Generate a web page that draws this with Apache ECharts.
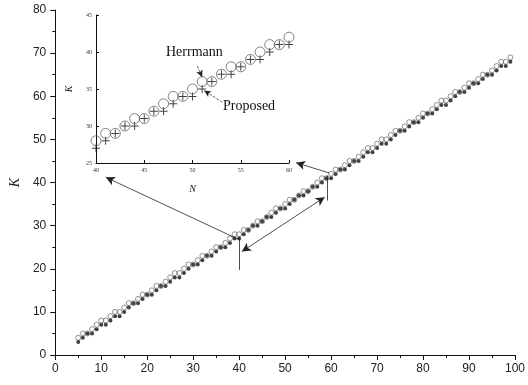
<!DOCTYPE html>
<html>
<head>
<meta charset="utf-8">
<script src="https://cdn.jsdelivr.net/npm/echarts@6/dist/echarts.min.js"></script>
<style>
html, body { margin: 0; padding: 0; background: #fff; }
#chart { width: 528px; height: 385px; }
</style>
</head>
<body>
<div id="chart"></div>
<script>
// N from 5 to 99
var nVals = [5,6,7,8,9,10,11,12,13,14,15,16,17,18,19,20,21,22,23,24,25,26,27,28,29,30,
    31,32,33,34,35,36,37,38,39,40,41,42,43,44,45,46,47,48,49,50,51,52,53,54,55,56,57,58,59,60,
    61,62,63,64,65,66,67,68,69,70,71,72,73,74,75,76,77,78,79,80,81,82,83,84,85,86,87,88,89,90,
    91,92,93,94,95,96,97,98,99];
var herrmann = [4,5,5,6,7,8,8,9,10,10,11,12,12,13,14,14,15,16,16,17,18,19,19,20,21,21,
    22,23,23,24,25,25,26,27,28,28,29,29,30,31,31,32,33,34,34,35,36,36,37,38,38,39,40,41,41,42,
    43,43,44,45,45,46,47,48,48,49,50,50,51,52,52,53,54,54,55,56,56,57,58,59,59,60,61,61,62,63,
    63,64,65,65,66,67,68,68,69];
var proposed = [3,4,5,5,6,7,7,8,9,9,10,11,12,12,13,14,14,15,16,16,17,18,18,19,20,21,
    21,22,23,23,24,25,25,26,27,27,28,29,30,30,31,32,32,33,34,34,35,36,37,37,38,39,39,40,41,41,
    42,43,43,44,45,45,46,47,47,48,49,49,50,51,52,52,53,54,54,55,56,56,57,58,58,59,60,61,61,62,
    63,63,64,65,65,66,67,67,68];

var mainXTicks = [0, 100, 10];
var mainYTicks = [0, 80, 10];
var insetXTicks = [40, 60, 5];
var insetYTicks = [25, 45, 5];

function pairs(ys, from, to) {
    var out = [];
    for (var i = 0; i < nVals.length; i++) {
        if (nVals[i] >= from && nVals[i] <= to) out.push([nVals[i], ys[i]]);
    }
    return out;
}

var plusPath = 'path://M4.4,0H5.6V4.4H10V5.6H5.6V10H4.4V5.6H0V4.4H4.4Z';
var lineStyle = { color: '#222', width: 0.8, type: 'solid' };
var sans = 'Liberation Sans';
var serif = 'Liberation Serif';

var myChart = echarts.init(document.getElementById('chart'));
var option = {
    backgroundColor: '#fff',
    animation: false,
    grid: [
        { left: 52, right: 9, top: 10, bottom: 30 },
        { left: 96, right: 239, top: 15, bottom: 222 }
    ],
    xAxis: [
        {
            gridIndex: 0, type: 'value',
            min: mainXTicks[0], max: mainXTicks[1], interval: mainXTicks[2],
            axisLine: { lineStyle: { color: '#111', width: 1 } },
            axisTick: { inside: false, length: 5, lineStyle: { color: '#111' } },
            minorTick: { show: true, splitNumber: 2, length: 3, lineStyle: { color: '#111' } },
            axisLabel: { color: '#222', fontSize: 12, margin: 8, fontFamily: sans },
            splitLine: { show: false }
        },
        {
            gridIndex: 1, type: 'value',
            min: insetXTicks[0], max: insetXTicks[1], interval: insetXTicks[2],
            name: 'N', nameLocation: 'middle', nameGap: 21,
            nameTextStyle: { fontFamily: serif, fontStyle: 'italic', fontSize: 10, color: '#222' },
            axisLine: { lineStyle: { color: '#111', width: 1 } },
            axisTick: { inside: true, length: 3, lineStyle: { color: '#111' } },
            axisLabel: { color: '#333', fontSize: 6, margin: 4, fontFamily: serif },
            splitLine: { show: false }
        }
    ],
    yAxis: [
        {
            gridIndex: 0, type: 'value',
            min: mainYTicks[0], max: mainYTicks[1], interval: mainYTicks[2],
            name: 'K', nameLocation: 'middle', nameGap: 31,
            nameTextStyle: { fontFamily: serif, fontStyle: 'italic', fontSize: 14, color: '#222' },
            axisLine: { show: true, lineStyle: { color: '#111', width: 1 } },
            axisTick: { show: true, inside: false, length: 5, lineStyle: { color: '#111' } },
            minorTick: { show: true, splitNumber: 2, length: 3, lineStyle: { color: '#111' } },
            axisLabel: { color: '#222', fontSize: 12, margin: 9, fontFamily: sans },
            splitLine: { show: false }
        },
        {
            gridIndex: 1, type: 'value',
            min: insetYTicks[0], max: insetYTicks[1], interval: insetYTicks[2],
            name: 'K', nameLocation: 'middle', nameGap: 22,
            nameTextStyle: { fontFamily: serif, fontStyle: 'italic', fontSize: 10, color: '#222' },
            axisLine: { show: true, lineStyle: { color: '#111', width: 1 } },
            axisTick: { show: true, inside: true, length: 3, lineStyle: { color: '#111' } },
            axisLabel: { color: '#333', fontSize: 6, margin: 4, fontFamily: serif },
            splitLine: { show: false }
        }
    ],
    series: [
        {
            name: 'Proposed', type: 'scatter', xAxisIndex: 0, yAxisIndex: 0,
            symbol: 'circle', symbolSize: 4,
            itemStyle: { color: '#111' },
            data: pairs(proposed, 0, 100),
            markLine: {
                silent: true, symbolSize: [7, 9], precision: 2,
                lineStyle: lineStyle,
                label: { show: false },
                data: [
                    [{ coord: [40, 19.7], symbol: 'none' }, { coord: [40, 27.4], symbol: 'none' }],
                    [{ coord: [59.1, 35.8], symbol: 'none' }, { coord: [59.1, 41.6], symbol: 'none' }],
                    [{ coord: [39.9, 26.8], symbol: 'none' }, { coord: [11.0, 41.2], symbol: 'arrow' }],
                    [{ coord: [40.6, 24.0], symbol: 'arrow' }, { coord: [58.6, 36.6], symbol: 'arrow' }],
                    [{ coord: [59.6, 42.2], symbol: 'none' }, { coord: [52.4, 44.6], symbol: 'arrow' }]
                ]
            }
        },
        {
            name: 'Herrmann', type: 'scatter', xAxisIndex: 0, yAxisIndex: 0,
            symbol: 'circle', symbolSize: 5,
            itemStyle: { color: 'rgba(255,255,255,0)', borderColor: '#555', borderWidth: 0.8 },
            data: pairs(herrmann, 0, 100)
        },
        {
            name: 'Proposed inset', type: 'scatter', xAxisIndex: 1, yAxisIndex: 1,
            symbol: plusPath, symbolSize: 8,
            itemStyle: { color: '#111' },
            data: pairs(proposed, 40, 60),
            markLine: {
                silent: true, symbolSize: [5, 7], precision: 2,
                lineStyle: { color: '#222', width: 0.7 },
                label: { show: false },
                data: [
                    [{ coord: [50.5, 38.1], symbol: 'none' }, { coord: [51.0, 36.6], symbol: 'arrow' }],
                    [{ coord: [53.1, 33.2], symbol: 'none' }, { coord: [51.2, 34.8], symbol: 'arrow' }]
                ]
            }
        },
        {
            name: 'Herrmann inset', type: 'scatter', xAxisIndex: 1, yAxisIndex: 1,
            symbol: 'circle', symbolSize: 10,
            itemStyle: { color: 'rgba(255,255,255,0)', borderColor: '#555', borderWidth: 0.9 },
            data: pairs(herrmann, 40, 60)
        }
    ],
    graphic: [
        {
            type: 'text', left: 166, top: 45,
            style: { text: 'Herrmann', fontFamily: serif, fontSize: 14, fill: '#111' }
        },
        {
            type: 'text', left: 223, top: 99,
            style: { text: 'Proposed', fontFamily: serif, fontSize: 14, fill: '#111' }
        }
    ]
};
myChart.setOption(option);
</script>
</body>
</html>
